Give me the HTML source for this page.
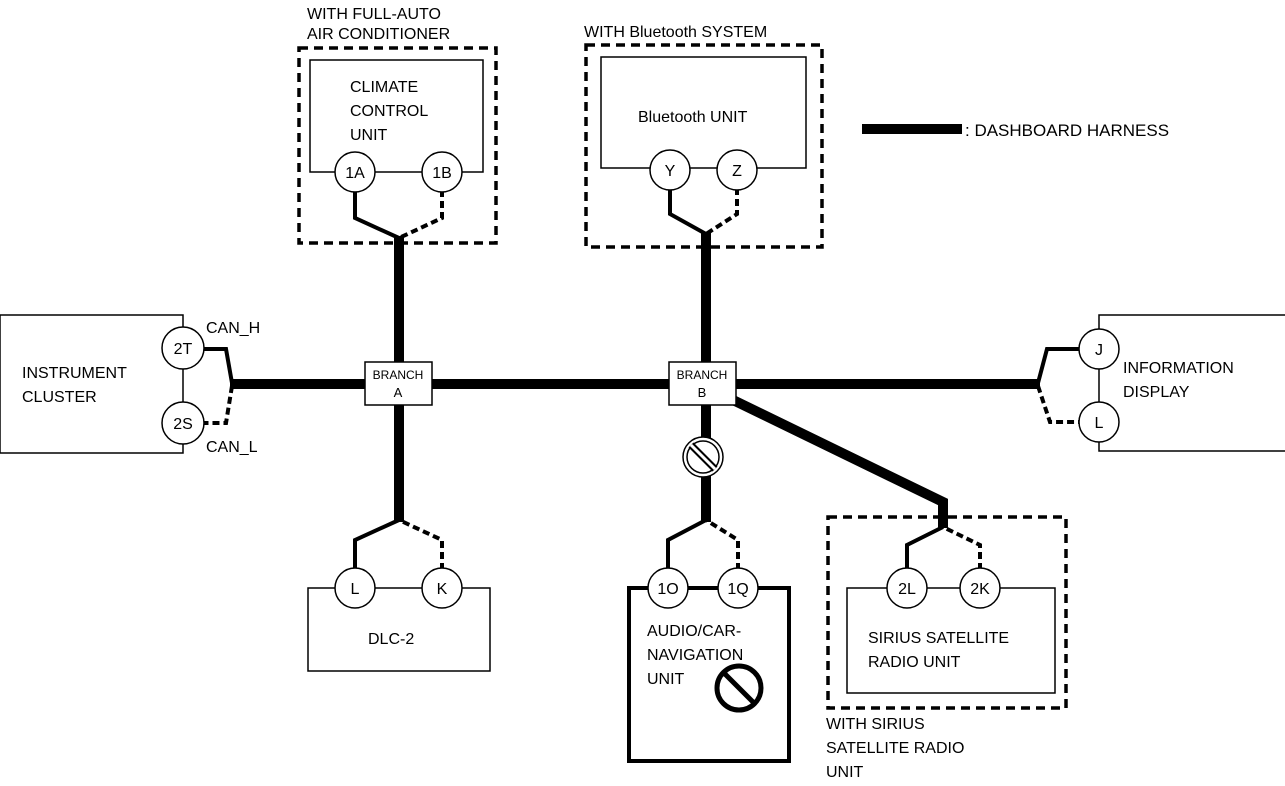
<!DOCTYPE html>
<html><head><meta charset="utf-8"><style>
html,body{margin:0;padding:0;background:#fff}
svg{display:block}
text{font-family:"Liberation Sans",Arial,sans-serif;fill:#000}
</style></head><body>
<svg width="1285" height="786" viewBox="0 0 1285 786" xmlns="http://www.w3.org/2000/svg">
<g fill="none" stroke="#000">
<rect x="299" y="48" width="197" height="195" stroke-width="3.5" stroke-dasharray="9,6"/>
<rect x="586" y="45" width="236" height="202" stroke-width="3.5" stroke-dasharray="9,6"/>
<rect x="828" y="517" width="238" height="191" stroke-width="3.5" stroke-dasharray="9,6"/>
<rect x="310" y="60" width="173" height="112" stroke-width="1.5"/>
<rect x="601" y="57" width="205" height="111" stroke-width="1.5"/>
<rect x="0" y="315" width="183" height="138" stroke-width="1.5"/>
<rect x="1099" y="315" width="190" height="136" stroke-width="1.5"/>
<rect x="308" y="588" width="182" height="83" stroke-width="1.5"/>
<rect x="629" y="588" width="160" height="173" stroke-width="4"/>
<rect x="847" y="588" width="208" height="105" stroke-width="1.5"/>
<g stroke-width="10">
<line x1="230" y1="384" x2="1040" y2="384"/>
<line x1="399" y1="236" x2="399" y2="522"/>
<line x1="706" y1="232" x2="706" y2="522"/>
<polyline points="733,400 943,502 943,528"/>
</g>
<g stroke-width="4" stroke-linejoin="miter">
<polyline points="355,190 355,218 399,238"/>
<polyline points="670,188 670,214 706,234"/>
<polyline points="204,349 226,349 232,383"/>
<polyline points="1080,349 1047,349 1038,383"/>
<polyline points="355,570 355,540 399,520"/>
<polyline points="668,570 668,540 706,520"/>
<polyline points="907,570 907,545 943,527"/>
</g>
<g stroke-width="4" stroke-dasharray="7,4">
<polyline points="442,190 442,218 399,238"/>
<polyline points="737,188 737,214 706,234"/>
<polyline points="232,386 226,423 204,423"/>
<polyline points="1038,386 1050,422 1080,422"/>
<polyline points="442,570 442,540 399,520"/>
<polyline points="738,570 738,540 706,520"/>
<polyline points="980,570 980,545 943,527"/>
</g>
<rect x="365" y="362" width="67" height="43" fill="#fff" stroke-width="1.5"/>
<rect x="669" y="362" width="67" height="43" fill="#fff" stroke-width="1.5"/>
<g fill="#fff" stroke-width="1.5">
<circle cx="355" cy="172" r="20"/><circle cx="442" cy="172" r="20"/>
<circle cx="670" cy="170" r="20"/><circle cx="737" cy="170" r="20"/>
<circle cx="183" cy="348" r="21"/><circle cx="183" cy="423" r="21"/>
<circle cx="1099" cy="349" r="20"/><circle cx="1099" cy="422" r="20"/>
<circle cx="355" cy="588" r="20"/><circle cx="442" cy="588" r="20"/>
<circle cx="668" cy="588" r="20"/><circle cx="738" cy="588" r="20"/>
<circle cx="907" cy="588" r="20"/><circle cx="980" cy="588" r="20"/>
</g>
<circle cx="703" cy="457" r="20" fill="#fff" stroke-width="1.5"/>
<circle cx="703" cy="457" r="16" stroke-width="1.5"/>
<line x1="691" y1="445" x2="715" y2="469" stroke-width="7"/>
<line x1="691" y1="445" x2="715" y2="469" stroke="#fff" stroke-width="3"/>
<circle cx="739" cy="688" r="22" stroke-width="5"/>
<line x1="723" y1="672" x2="755" y2="704" stroke-width="5"/>
<line x1="862" y1="129" x2="962" y2="129" stroke-width="10"/>
</g>
<g font-size="16">
<text x="307" y="19">WITH FULL-AUTO</text>
<text x="307" y="39">AIR CONDITIONER</text>
<text x="584" y="37">WITH Bluetooth SYSTEM</text>
<text x="350" y="92">CLIMATE</text>
<text x="350" y="116">CONTROL</text>
<text x="350" y="140">UNIT</text>
<text x="638" y="122">Bluetooth UNIT</text>
<text x="965" y="136" font-size="17">: DASHBOARD HARNESS</text>
<text x="22" y="378">INSTRUMENT</text>
<text x="22" y="402">CLUSTER</text>
<text x="1123" y="373">INFORMATION</text>
<text x="1123" y="397">DISPLAY</text>
<text x="206" y="333">CAN_H</text>
<text x="206" y="452">CAN_L</text>
<text x="368" y="644">DLC-2</text>
<text x="647" y="636">AUDIO/CAR-</text>
<text x="647" y="660">NAVIGATION</text>
<text x="647" y="684">UNIT</text>
<text x="868" y="643">SIRIUS SATELLITE</text>
<text x="868" y="667">RADIO UNIT</text>
<text x="826" y="729">WITH SIRIUS</text>
<text x="826" y="753">SATELLITE RADIO</text>
<text x="826" y="777">UNIT</text>
</g>
<g font-size="16" text-anchor="middle">
<text x="355" y="178">1A</text><text x="442" y="178">1B</text>
<text x="670" y="176">Y</text><text x="737" y="176">Z</text>
<text x="183" y="354">2T</text><text x="183" y="429">2S</text>
<text x="1099" y="355">J</text><text x="1099" y="428">L</text>
<text x="355" y="594">L</text><text x="442" y="594">K</text>
<text x="668" y="594">1O</text><text x="738" y="594">1Q</text>
<text x="907" y="594">2L</text><text x="980" y="594">2K</text>
</g>
<g font-size="12" text-anchor="middle">
<text x="398" y="379">BRANCH</text><text x="398" y="397" font-size="13">A</text>
<text x="702" y="379">BRANCH</text><text x="702" y="397" font-size="13">B</text>
</g>
</svg>
</body></html>
